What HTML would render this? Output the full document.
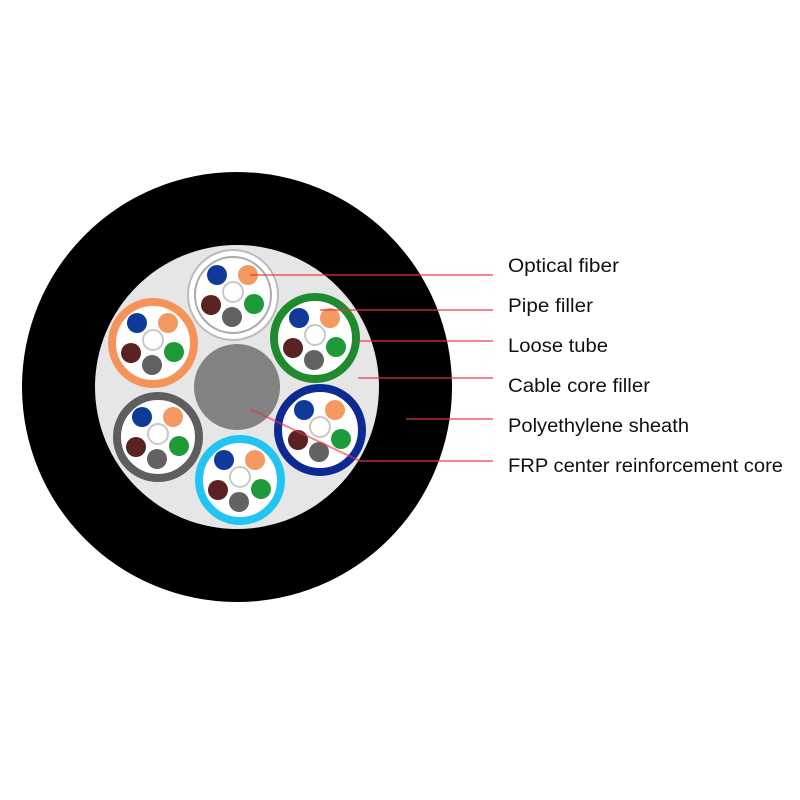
<!DOCTYPE html>
<html><head><meta charset="utf-8"><style>
html,body{margin:0;padding:0;background:#fff;width:800px;height:800px;overflow:hidden}
</style></head><body>
<svg width="800" height="800" viewBox="0 0 800 800" xmlns="http://www.w3.org/2000/svg">
<defs>
<g id="fib">
<circle cx="-16" cy="-20" r="10" fill="#0f3a9a"/>
<circle cx="15" cy="-20" r="10" fill="#f39a62"/>
<circle cx="0" cy="-3" r="10" fill="#fff" stroke="#c8c8c8" stroke-width="2"/>
<circle cx="-22" cy="10" r="10" fill="#5a2222"/>
<circle cx="21" cy="9" r="10" fill="#1f9a3a"/>
<circle cx="-1" cy="22" r="10" fill="#626262"/>
</g>
</defs>
<circle cx="237" cy="387" r="215" fill="#000"/>
<circle cx="237" cy="387" r="142" fill="#e6e6e6"/>
<circle cx="237" cy="387" r="43" fill="#828282"/>
<!-- top white tube -->
<circle cx="233" cy="295" r="45" fill="#fff" stroke="#bbb" stroke-width="2"/>
<circle cx="233" cy="295" r="38" fill="#fff" stroke="#aaa" stroke-width="2"/>
<use href="#fib" x="233" y="295"/>
<!-- colored tubes -->
<circle cx="315" cy="338" r="41" fill="#fff" stroke="#1f8a2e" stroke-width="8"/>
<use href="#fib" x="315" y="338"/>
<circle cx="320" cy="430" r="42" fill="#fff" stroke="#0c2a92" stroke-width="8"/>
<use href="#fib" x="320" y="430"/>
<circle cx="240" cy="480" r="41" fill="#fff" stroke="#22c4f2" stroke-width="8"/>
<use href="#fib" x="240" y="480"/>
<circle cx="158" cy="437" r="41" fill="#fff" stroke="#5e5e5e" stroke-width="8"/>
<use href="#fib" x="158" y="437"/>
<circle cx="153" cy="343" r="41" fill="#fff" stroke="#f4945a" stroke-width="8"/>
<use href="#fib" x="153" y="343"/>
<!-- leader lines -->
<g stroke="rgba(235,50,70,0.6)" stroke-width="2" fill="none">
<line x1="250" y1="275" x2="493" y2="275"/>
<line x1="320" y1="310" x2="493" y2="310"/>
<line x1="358" y1="341" x2="493" y2="341"/>
<line x1="358" y1="378" x2="493" y2="378"/>
<line x1="406" y1="419" x2="493" y2="419"/>
<polyline points="250,409 360,461 493,461"/>
</g>
<g font-family="Liberation Sans, sans-serif" font-size="19" fill="#111">
<text x="508" y="272" textLength="111" lengthAdjust="spacingAndGlyphs">Optical fiber</text>
<text x="508" y="312" textLength="85" lengthAdjust="spacingAndGlyphs">Pipe filler</text>
<text x="508" y="352" textLength="100" lengthAdjust="spacingAndGlyphs">Loose tube</text>
<text x="508" y="392" textLength="142" lengthAdjust="spacingAndGlyphs">Cable core filler</text>
<text x="508" y="432" textLength="181" lengthAdjust="spacingAndGlyphs">Polyethylene sheath</text>
<text x="508" y="472" textLength="275" lengthAdjust="spacingAndGlyphs">FRP center reinforcement core</text>
</g>
</svg>
</body></html>
